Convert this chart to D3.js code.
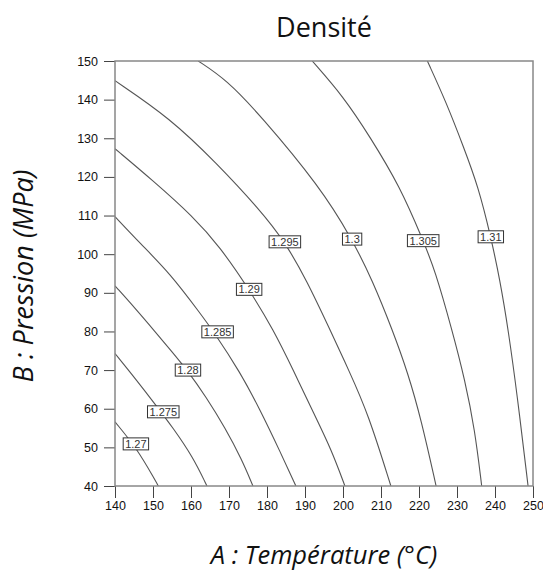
<!DOCTYPE html>
<html><head><meta charset="utf-8">
<script src="https://cdn.jsdelivr.net/npm/d3@7"></script>
<style>body{margin:0;background:#fff}</style>
</head><body><svg id="c" width="543" height="570"></svg>
<script>
// ---- data ----
const title = "Densité";
const xTitle = "A : Température (°C)";
const yTitle = "B : Pression (MPa)";
const xTicks = [140,150,160,170,180,190,200,210,220,230,240,250];
const yTicks = [40,50,60,70,80,90,100,110,120,130,140,150];
const levels = ["1.27","1.275","1.28","1.285","1.29","1.295","1.3","1.305","1.31"];
// contour lines as [temperature, pressure] points
const c1270 = [[140,56.6],[145.7,49.8],[150.5,41.6],[151.4,40]];
const c1275 = [[140,74.3],[145.6,67.5],[150.7,61.0],[155.3,55.0],[160.5,47.5],[164.2,40]];
const c1280 = [[140,91.8],[145.3,86.0],[150.5,80.0],[154.8,75.0],[159.0,70.0],[164.0,63.0],[169.0,55.0],[173.3,47.0],[176.3,40]];
const c1285 = [[140,109.7],[146.6,102.8],[154.5,95.0],[162.4,84.7],[166.0,79.9],[172.9,69.5],[178.2,59.7],[183.4,49.0],[187.6,40]];
const c1290 = [[140,127.3],[149.8,119.2],[160.6,109.7],[167.6,101.9],[175.3,90.9],[181.7,80.4],[186.9,70.0],[192.3,58.8],[197.0,49.3],[200.5,40]];
const c1295 = [[140,144.9],[154.5,135.2],[166.8,123.5],[178.2,111.4],[184.7,103.2],[190.4,93.3],[196.6,80.4],[201.5,70.0],[206.6,58.8],[212.6,40]];
const c1300 = [[161.9,150],[169.4,145.1],[178.2,136.0],[193.9,117.5],[202.4,103.9],[207.7,93.3],[213.0,80.4],[217.1,69.2],[220.6,57.1],[224.5,40]];
const c1305 = [[191.9,150],[200.1,140.8],[207.1,130.4],[215.0,117.5],[221.1,103.5],[224.2,95.9],[228.7,80.4],[232.1,67.4],[234.7,54.5],[236.5,40]];
const c1310 = [[222.2,150],[227.3,139.0],[231.7,127.8],[235.6,117.5],[238.9,104.5],[241.3,93.3],[243.5,80.4],[245.9,63.1],[248.7,40]];
const labelT = [145.5,152.7,159.2,167.0,175.3,184.7,202.4,221.1,238.9];
const labelP = [50.9,59.2,70.0,79.9,90.9,103.2,103.9,103.5,104.5];

// ---- drawing ----
const contours = [c1270,c1275,c1280,c1285,c1290,c1295,c1300,c1305,c1310];
const L = 115, R = 533, T = 61, B = 486;
const svg = d3.select("#c");
const x = d3.scaleLinear().domain([140,250]).range([L,R]);
const y = d3.scaleLinear().domain([40,150]).range([B,T]);

svg.append("defs").append("clipPath").attr("id","plot")
  .append("rect").attr("x",L).attr("y",T).attr("width",R-L).attr("height",B-T);

const line = d3.line().x(d=>x(d[0])).y(d=>y(d[1])).curve(d3.curveBasis);
svg.append("g").attr("clip-path","url(#plot)")
  .selectAll("path").data(contours).join("path")
  .attr("d",line).attr("fill","none").attr("stroke","#555").attr("stroke-width",1.1);

// axes
const xa = svg.append("g").attr("transform",`translate(0,${B})`)
  .call(d3.axisBottom(x).tickValues(xTicks).tickSize(12).tickPadding(3).tickFormat(d3.format("d")));
const ya = svg.append("g").attr("transform",`translate(${L},0)`)
  .call(d3.axisLeft(y).tickValues(yTicks).tickSize(11).tickPadding(6).tickFormat(d3.format("d")));
[xa,ya].forEach(a=>{
  a.select(".domain").remove();
  a.selectAll("line").attr("stroke","#444");
  a.selectAll("text").attr("font-family","'Liberation Sans', Arial, sans-serif").attr("font-size",12.5).attr("fill","#111");
});

// frame
svg.append("rect").attr("x",L).attr("y",T).attr("width",R-L).attr("height",B-T)
  .attr("fill","none").attr("stroke","#888").attr("stroke-width",1.5);

// contour labels
const lg = svg.append("g").selectAll("g").data(levels).join("g")
  .attr("transform",(d,i)=>`translate(${x(labelT[i])},${y(labelP[i])})`);
lg.append("text").text(d=>d).attr("text-anchor","middle").attr("dy","0.35em")
  .attr("font-family","'Liberation Sans', Arial, sans-serif").attr("font-size",11).attr("fill","#333");
lg.each(function(){
  const g = d3.select(this), t = g.select("text"), bb = t.node().getBBox();
  g.insert("rect","text").attr("x",bb.x-2).attr("y",-6).attr("width",bb.width+4).attr("height",12)
    .attr("fill","#fff").attr("stroke","#333").attr("stroke-width",1);
});

// titles
svg.append("text").attr("x",(L+R)/2).attr("y",37).attr("text-anchor","middle")
  .attr("font-family","'Open Sans', sans-serif").attr("font-size",27).attr("fill","#111").text(title);
svg.append("text").attr("x",(L+R)/2).attr("y",564).attr("text-anchor","middle")
  .attr("font-family","'Open Sans', sans-serif").attr("font-style","italic").attr("font-size",25.5).attr("fill","#111").text(xTitle);
svg.append("text").attr("transform",`translate(33,276) rotate(-90)`).attr("text-anchor","middle")
  .attr("font-family","'Open Sans', sans-serif").attr("font-style","italic").attr("font-size",27).attr("fill","#111").text(yTitle);
</script></body></html>
